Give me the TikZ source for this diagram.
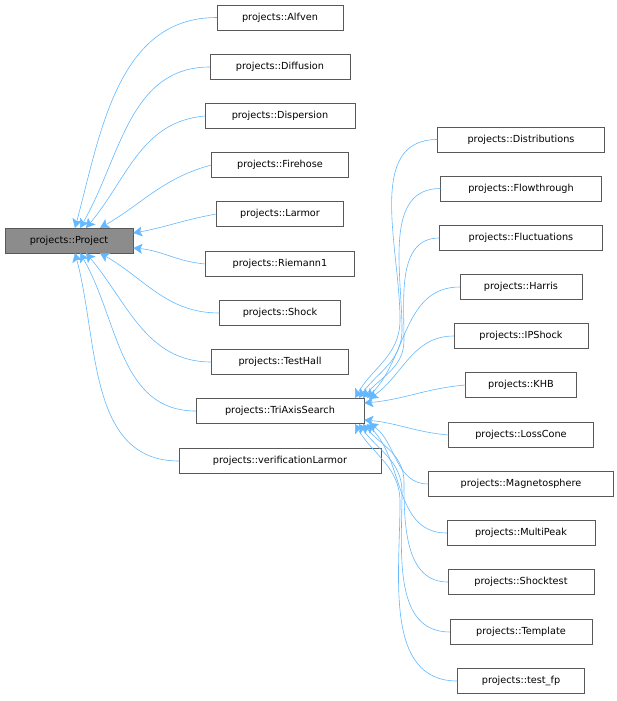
\documentclass[tikz,border=0pt]{standalone}
\usepackage{fontspec}
\setmainfont{DejaVu Sans}
\usetikzlibrary{arrows.meta}
\definecolor{edge}{RGB}{99,184,255}
\begin{document}
\begin{tikzpicture}[x=1pt,y=-1pt,
  box/.style={draw=black!65,fill=white,inner sep=0pt,minimum height=25pt,font=\fontsize{9.7}{11}\selectfont,text=black},
  inh/.style={draw=edge,line width=0.6pt,-{Stealth[length=9pt,width=10pt,inset=2pt,fill=edge]}}]
\useasboundingbox (0,0) rectangle (617,701);
\node[box,fill=black!45,minimum width=128pt] (P) at (69,240.5) {projects::Project};
\foreach \n/\t/\y/\w in {A/Alfven/17.5/126, Di/Diffusion/67/140, Dp/Dispersion/116/150, F/Firehose/165/137, L/Larmor/214/127, R/Riemann1/264/149, S/Shock/313/121, TH/TestHall/362/137, T/TriAxisSearch/411/168, V/verificationLarmor/461/202}
  \node[box,minimum width=\w pt] (\n) at (280,\y) {projects::\t};
\foreach \n/\t/\y/\w in {a/Distributions/139.5/167, b/Flowthrough/188.5/161, c/Fluctuations/238/163, d/Harris/287/122, e/IPShock/336/134, f/KHB/385/111, g/LossCone/435/145, h/Magnetosphere/484/185, i/MultiPeak/533/148, j/Shocktest/582/146, k/Template/632/142, l/test\_fp/681/127}
  \node[box,minimum width=\w pt] (\n) at (521,\y) {projects::\t};
\draw[inh] (A.west) to[out=180,in=75] (75,228);
\draw[inh] (Di.west) to[out=180,in=60] (80,228);
\draw[inh] (Dp.west) to[out=185,in=50] (86,228);
\draw[inh] (F.west) to[out=195,in=30] (100,228);
\draw[inh] (L.west) to[out=190,in=10] (P.east |- 0,233);
\draw[inh] (R.west) to[out=175,in=-5] (P.east |- 0,248);
\draw[inh] (S.west) to[out=180,in=-30] (100,253);
\draw[inh] (TH.west) to[out=180,in=-50] (86,253);
\draw[inh] (T.west) to[out=180,in=-60] (80,253);
\draw[inh] (V.west) to[out=180,in=-75] (75,253);
\draw[inh] (a.west) to[out=180,in=90] (400,320) to[out=-90,in=60] (355,398);
\draw[inh] (b.west) to[out=180,in=90] (402,330) to[out=-90,in=55] (359,398);
\draw[inh] (c.west) to[out=180,in=90] (404,340) to[out=-90,in=50] (363,398);
\draw[inh] (d.west) to[out=180,in=45] (367,398);
\draw[inh] (e.west) to[out=180,in=35] (369,399);
\draw[inh] (f.west) to[out=185,in=5] (T.east |- 0,403);
\draw[inh] (g.west) to[out=175,in=-5] (T.east |- 0,420);
\draw[inh] (h.west) to[out=180,in=-35] (369,423);
\draw[inh] (i.west) to[out=180,in=-45] (367,424);
\draw[inh] (j.west) to[out=180,in=-90] (404,482) to[out=90,in=-50] (363,424);
\draw[inh] (k.west) to[out=180,in=-90] (402,492) to[out=90,in=-55] (359,424);
\draw[inh] (l.west) to[out=180,in=-90] (400,502) to[out=90,in=-60] (355,424);
\end{tikzpicture}
\end{document}
